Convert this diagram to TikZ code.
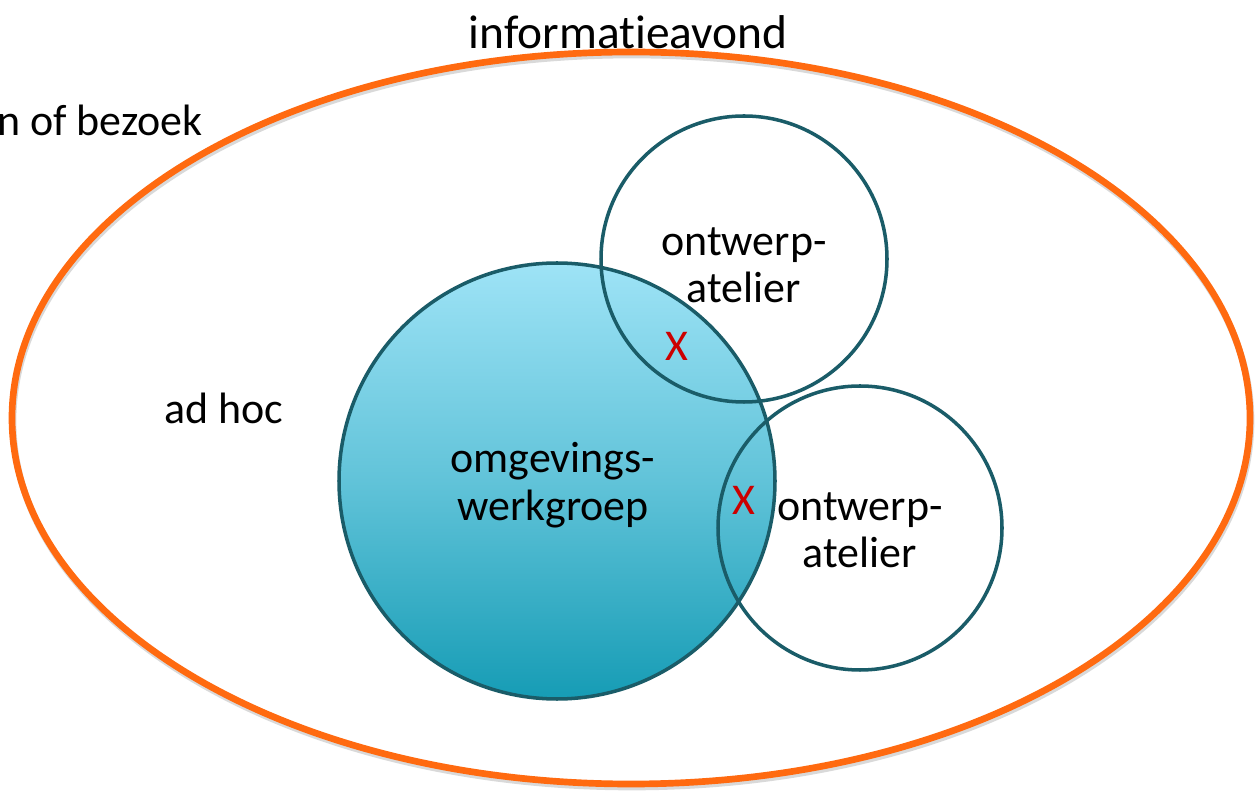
\documentclass[tikz,border=0pt]{standalone}
\usepackage{fontspec}
\setmainfont[Ligatures=NoCommon]{Carlito}
\usepackage{tikz}

\definecolor{oranje}{RGB}{255,106,16}
\definecolor{teal}{RGB}{26,92,104}
\definecolor{licht}{RGB}{158,227,246}
\definecolor{donker}{RGB}{22,156,181}
\definecolor{kruis}{RGB}{204,0,0}

\tikzset{
  txt/.style={font=\fontsize{25}{27}\selectfont, align=center, inner sep=0pt},
  rand/.style={draw=teal, line width=2pt},
  kr/.style={font=\fontsize{25}{27}\selectfont, text=kruis, inner sep=0pt}
}

\begin{document}
\begin{tikzpicture}[x=0.02cm, y=-0.02cm]
\useasboundingbox (0,0) rectangle (1255,793);
\shade[top color=licht, bottom color=donker, middle color=licht!55!donker] (557,481) circle[radius=218];
\draw[rand] (557,481) circle[radius=218];
\draw[rand] (744,259) circle[radius=143];
\draw[rand] (860,528) circle[radius=142];
\draw[black!15, line width=3.8pt] (632,421) ellipse[x radius=619, y radius=366];
\draw[oranje, line width=3.8pt] (631,418) ellipse[x radius=619, y radius=366];

\path (628,32) node[txt, font=\fontsize{27}{29}\selectfont] (avond) {informatieavond}
      (203,120) node[txt, anchor=east] (bezoek) {n of bezoek}
      (224,408) node[txt] (adhoc) {ad hoc}
      (744,265) node[txt] (atelier1) {ontwerp-\\atelier}
      (860,530) node[txt] (atelier2) {ontwerp-\\atelier}
      (553,485) node[txt] (werkgroep) {omgevings-\\werkgroep}
      (677,346) node[kr] (x1) {X}
      (744,500) node[kr] (x2) {X}
      ;
\end{tikzpicture}
\end{document}
